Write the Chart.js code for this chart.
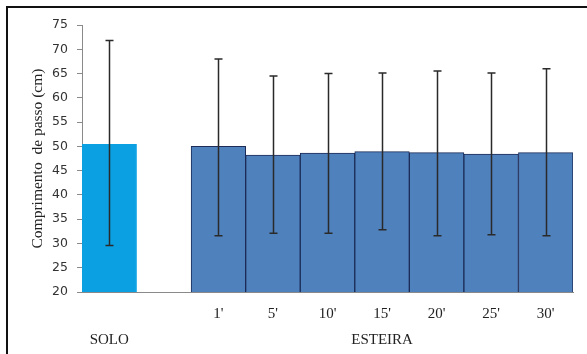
<!DOCTYPE html>
<html>
<head>
<meta charset="utf-8">
<script src="https://cdn.jsdelivr.net/npm/chart.js@4.4.0/dist/chart.umd.min.js"></script>
<style>
  html, body { margin: 0; padding: 0; background: #fff; overflow: hidden; }
  #chart { display: block; }
</style>
</head>
<body>
<canvas id="chart" width="587" height="354"></canvas>
<script>
// Categories: minute labels (first line) and group labels (second line)
const minuteLabels = ['', '', "1'", "5'", "10'", "15'", "20'", "25'", "30'"];
const groupLabels = ['SOLO', '', '', '', '', 'ESTEIRA', '', '', ''];

// Mean step length (cm) and error bar ends
const means = [50.4, null, 50.0, 48.2, 48.6, 48.9, 48.7, 48.4, 48.7];
const errLow = [29.6, null, 31.6, 32.1, 32.1, 32.8, 31.6, 31.8, 31.6];
const errHigh = [71.8, null, 68.0, 64.5, 65.0, 65.1, 65.5, 65.1, 66.0];

// Y axis ticks
const yMin = 20;
const yMax = 75;
const yStep = 5;

const labels = minuteLabels.map((m, i) => [m, groupLabels[i]]);
const barColors = means.map((v, i) => i === 0 ? '#0aa0e2' : '#4f81bd');
const barBorders = means.map((v, i) => i === 0 ? '#0aa0e2' : '#1c2b57');

// Outer frame: only the left and top edges show in the picture
const frame = {
    id: 'frame',
    beforeDraw(chart) {
        const ctx = chart.ctx;
        ctx.save();
        ctx.fillStyle = '#111';
        ctx.fillRect(6, 6, 2, chart.height - 6);
        ctx.fillRect(6, 6, chart.width - 6, 2);
        ctx.restore();
    }
};

// Draw error bars with the chart's own scales
const errorBars = {
    id: 'errorBars',
    afterDatasetsDraw(chart) {
        const ctx = chart.ctx;
        const y = chart.scales.y;
        const meta = chart.getDatasetMeta(0);
        ctx.save();
        ctx.strokeStyle = '#2a2a2a';
        ctx.lineWidth = 1.5;
        meta.data.forEach((bar, i) => {
            if (errLow[i] == null) return;
            const x = Math.round(bar.x) + 0.5;
            const top = y.getPixelForValue(errHigh[i]);
            const bottom = y.getPixelForValue(errLow[i]);
            ctx.beginPath();
            ctx.moveTo(x, top);
            ctx.lineTo(x, bottom);
            ctx.moveTo(x - 4, top);
            ctx.lineTo(x + 4, top);
            ctx.moveTo(x - 4, bottom);
            ctx.lineTo(x + 4, bottom);
            ctx.stroke();
        });
        ctx.restore();
    }
};

const ctx = document.getElementById('chart').getContext('2d');

new Chart(ctx, {
    type: 'bar',
    data: {
        labels: labels,
        datasets: [{
            data: means,
            backgroundColor: barColors,
            borderColor: barBorders,
            borderWidth: 1,
            barPercentage: 1,
            categoryPercentage: 1
        }]
    },
    options: {
        responsive: false,
        animation: false,
        layout: {
            padding: { top: 25, right: 14, left: 0, bottom: 0 }
        },
        plugins: {
            legend: { display: false },
            tooltip: { enabled: false }
        },
        scales: {
            x: {
                grid: { display: false, drawTicks: false },
                border: { display: true, color: '#8a8a8a', width: 1 },
                ticks: {
                    padding: 9,
                    maxRotation: 0,
                    autoSkip: false,
                    color: '#222',
                    font: { family: '"Liberation Serif", "Times New Roman", serif', size: 15, lineHeight: '26px' }
                },
                afterFit(scale) { scale.height = 62; }
            },
            y: {
                min: yMin,
                max: yMax,
                grid: { drawOnChartArea: false, tickLength: 5, color: '#8a8a8a' },
                border: { display: true, color: '#8a8a8a', width: 1 },
                ticks: {
                    stepSize: yStep,
                    padding: 9,
                    color: '#333',
                    font: { family: '"DejaVu Sans", sans-serif', size: 12.5 }
                },
                title: {
                    display: true,
                    text: 'Comprimento  de passo (cm)',
                    color: '#222',
                    padding: { top: 29, bottom: 0 },
                    font: { family: '"Liberation Serif", "Times New Roman", serif', size: 15.5 }
                },
                afterFit(scale) { scale.width = 82; }
            }
        }
    },
    plugins: [frame, errorBars]
});
</script>
</body>
</html>
